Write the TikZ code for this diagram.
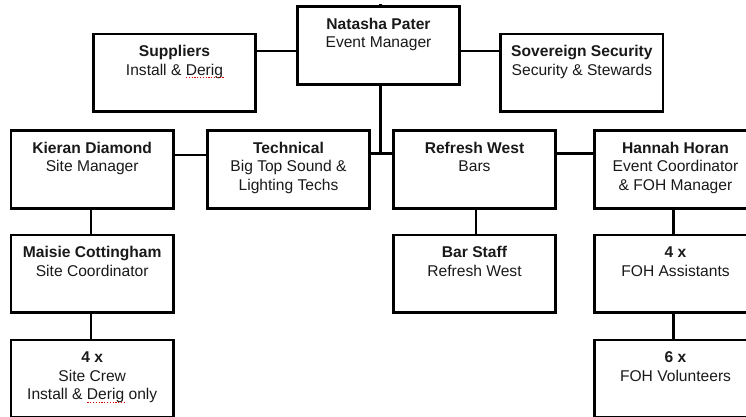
\documentclass[tikz,border=0pt]{standalone}
\usepackage{fontspec}
\setmainfont{Liberation Sans}
\usetikzlibrary{calc}
\newcommand\orgtext[2]{\parbox[t][77.6pt][t]{162.4pt}{\centering\fontsize{15.6pt}{18.6pt}\selectfont\rule{0pt}{22.6pt}\textbf{#1}\\#2}}
\tikzset{
  orgbox/.style={draw=black, line width=2.6pt, inner sep=0pt, outer sep=0pt, anchor=north west, text=black!90},
  link/.style={draw=black, line width=2.6pt},
  spell/.style={draw=red!85!black, line width=1.3pt, dash pattern=on 1.2pt off 1.6pt}
}
\begin{document}
\begin{tikzpicture}[x=1pt,y=-1pt]
\useasboundingbox (0,0) rectangle (746,417);
\clip (0,0) rectangle (746,417);
% boxes
\node[orgbox] (nat)  at (297.3,6.7)  {\orgtext{Natasha Pater}{Event Manager}};
\node[orgbox] (sup)  at (93.3,34)    {\orgtext{Suppliers}{Install \& Derig}};
\node[orgbox] (sec)  at (500.7,34)   {\orgtext{Sovereign Security}{Security \& Stewards}};
\node[orgbox] (kie)  at (11,130.7)   {\orgtext{Kieran Diamond}{Site Manager}};
\node[orgbox] (tec)  at (207.3,130.7){\orgtext{Technical}{Big Top Sound \&\\Lighting Techs}};
\node[orgbox] (ref)  at (393.3,130.7){\orgtext{Refresh West}{Bars}};
\node[orgbox] (han)  at (594.3,130.7){\orgtext{Hannah Horan}{Event Coordinator\\\& FOH Manager}};
\node[orgbox] (mai)  at (11,235)     {\orgtext{Maisie Cottingham}{Site Coordinator}};
\node[orgbox] (bar)  at (393.3,235)  {\orgtext{Bar Staff}{Refresh West}};
\node[orgbox] (foha) at (594.3,235)  {\orgtext{4 x}{FOH Assistants}};
\node[orgbox] (crew) at (11,340)     {\orgtext{4 x}{Site Crew\\Install \& Derig only}};
\node[orgbox] (fohv) at (594.3,340)  {\orgtext{6 x}{FOH Volunteers}};
% connectors
\draw[link] ([yshift=-17pt]sup.north east) -- ([yshift=-44.3pt]nat.north west);
\draw[link] ([yshift=-44.3pt]nat.north east) -- ([yshift=-17pt]sec.north west);
\draw[link] ([yshift=-24.3pt]kie.north east) -- ([yshift=-24.3pt]tec.north west);
\draw[link] ([yshift=-23pt]tec.north east) -- ([yshift=-23pt]ref.north west);
\draw[link] ([yshift=-22.6pt]ref.north east) -- ([yshift=-22.6pt]han.north west);
\coordinate (jn) at ([yshift=-23pt]ref.north west);
\coordinate (nb) at ([xshift=2pt]nat.south);
\draw[link] (nb) -- (nb |- jn);
\coordinate (nt) at ([xshift=2pt]nat.north);
\coordinate (ntop) at ([yshift=3pt]nt);
\draw[link] (nt) -- (ntop);
\draw[link] ([xshift=-1.2pt]kie.south) -- ([xshift=-1.2pt]mai.north);
\draw[link] ([xshift=-1.2pt]mai.south) -- ([xshift=-1.2pt]crew.north);
\draw[link] ([xshift=1.5pt]ref.south) -- ([xshift=1.5pt]bar.north);
\draw[link] ([xshift=-2.2pt]han.south) -- ([xshift=-2.2pt]foha.north);
\draw[link] ([xshift=-2.2pt]foha.south) -- ([xshift=-2.2pt]fohv.north);
% spell-check underlines
\draw[spell] ([xshift=92.7pt,yshift=-43.7pt]sup.north west) -- ([xshift=130.7pt,yshift=-43.7pt]sup.north west);
\draw[spell] ([xshift=76.3pt,yshift=-62.3pt]crew.north west) -- ([xshift=114.7pt,yshift=-62.3pt]crew.north west);
\end{tikzpicture}
\end{document}
